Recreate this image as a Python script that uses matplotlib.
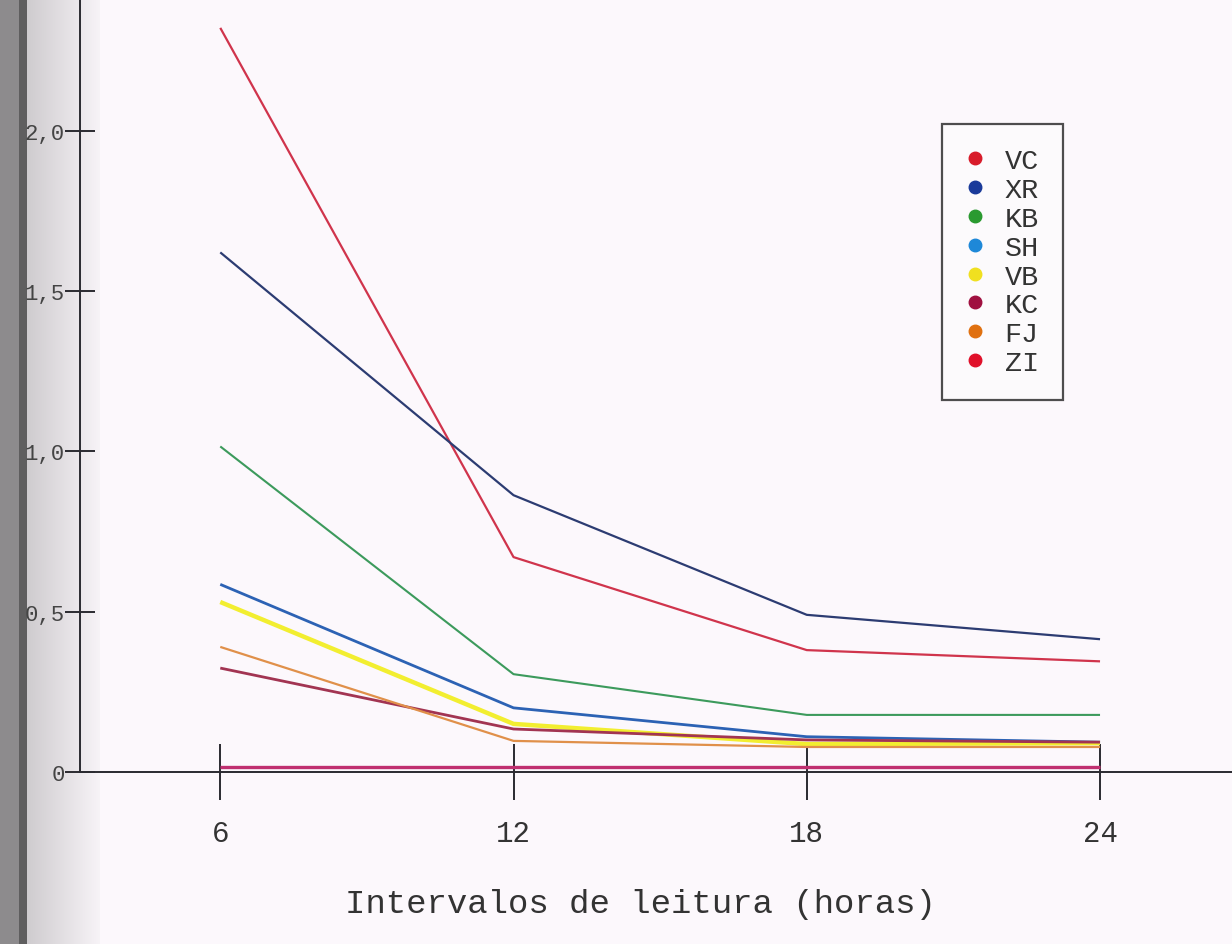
import numpy as np
import matplotlib
matplotlib.use("Agg")
import matplotlib.pyplot as plt
from matplotlib.lines import Line2D

# Reading intervals (hours) and one series per sample
horas = [6, 12, 18, 24]
amostras = ["VC", "XR", "KB", "SH", "VB", "KC", "FJ", "ZI"]

vc = [2.32, 0.67, 0.38, 0.345]
xr = [1.62, 0.863, 0.49, 0.414]
kb = [1.015, 0.305, 0.178, 0.178]
sh = [0.585, 0.20, 0.11, 0.093]
vb = [0.53, 0.15, 0.087, 0.09]
kc = [0.324, 0.134, 0.10, 0.093]
fj = [0.39, 0.097, 0.078, 0.078]
zi = [0.016, 0.016, 0.016, 0.016]

y_ticks = [0, 0.5, 1.0, 1.5, 2.0]
y_labels = ["0", "0,5", "1,0", "1,5", "2,0"]

series = [vc, xr, kb, sh, vb, kc, fj, zi]
line_colors = ["#d0344c", "#2c3c72", "#3c9a5c", "#2c62b4", "#f2ee30",
               "#a23452", "#e0904a", "#c03070"]
line_widths = [1.6, 1.6, 1.5, 2.0, 3.2, 2.0, 1.6, 2.4]
dot_colors = ["#d81b2a", "#1a3a9a", "#2a9a30", "#1e88d8", "#f0e020",
              "#a01040", "#e07010", "#e0102a"]

mono = "Liberation Mono"

fig = plt.figure(figsize=(12.32, 9.45), dpi=100)
fig.patch.set_facecolor("#fbf9fd")

# shading of the page edge on the left
bg = fig.add_axes([0, 0, 1, 1], zorder=-10)
xs = np.linspace(0, 1, 1232)
shade = np.ones_like(xs)
shade[xs < 25 / 1232] = 0.56
band = (xs >= 19 / 1232) & (xs < 27 / 1232)
shade[band] = 0.38
ramp = (xs >= 27 / 1232) & (xs < 100 / 1232)
shade[ramp] = 0.82 + 0.16 * (xs[ramp] - 27 / 1232) / (73 / 1232)
img = np.dstack([shade * 0.99, shade * 0.975, shade * 0.99])
bg.imshow(np.repeat(img, 4, axis=0), aspect="auto", extent=[0, 1, 0, 1])
bg.axis("off")

ax = fig.add_axes([80 / 1232, 1 - 773 / 945, 1 - 80 / 1232, 773 / 945])
ax.patch.set_alpha(0)

for vals, c, lw in zip(series, line_colors, line_widths):
    ax.plot(horas, vals, color=c, lw=lw, solid_capstyle="butt")

ax.set_xlim(3.13, 26.7)
ax.set_ylim(0, 2.41)

for s in ["top", "right"]:
    ax.spines[s].set_visible(False)
for s in ["left", "bottom"]:
    ax.spines[s].set_color("#2a2a30")
    ax.spines[s].set_linewidth(1.4)

ax.set_xticks(horas)
ax.set_xticklabels([str(h) for h in horas], fontsize=21, family=mono,
                   color="#333333")
ax.set_yticks(y_ticks)
ax.set_yticklabels(y_labels, fontsize=16, family=mono, color="#444444")
ax.tick_params(axis="x", direction="inout", length=40, width=1.4,
               color="#2a2a30", pad=14)
ax.tick_params(axis="y", direction="inout", length=22, width=1.4,
               color="#2a2a30", pad=0)

ax.set_xlabel("Intervalos de leitura (horas)", fontsize=24.5, family=mono,
              color="#333333")
ax.xaxis.set_label_coords((640 - 80) / 1152, -(905 - 773) / 773)
ax.xaxis.label.set_va("center")

handles = [Line2D([], [], ls="none", marker="o", markersize=9,
                  markerfacecolor=c, markeredgecolor=c) for c in dot_colors]
leg = fig.legend(handles, amostras, loc="upper left",
                 bbox_to_anchor=(942 / 1232, 1 - 125 / 945),
                 prop={"family": mono, "size": 20.5}, frameon=True,
                 fancybox=False, edgecolor="#222222", handlelength=0.6,
                 handletextpad=0.75, labelspacing=0.1, borderpad=0.85,
                 borderaxespad=0)
leg.get_frame().set_linewidth(1.6)
leg.get_frame().set_facecolor("#fcfbfd")
for t in leg.get_texts():
    t.set_color("#333333")

fig.savefig("out.png", dpi=100)
